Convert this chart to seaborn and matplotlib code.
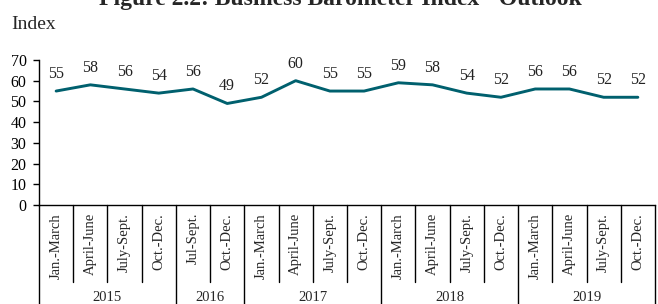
import numpy as np
import pandas as pd
import matplotlib
matplotlib.use("Agg")
import matplotlib.pyplot as plt
import matplotlib.transforms as mtransforms
import seaborn as sns

# chart data
quarters = [
    "Jan.-March", "April-June", "July-Sept.", "Oct.-Dec.",
    "Jul-Sept.", "Oct.-Dec.",
    "Jan.-March", "April-June", "July-Sept.", "Oct.-Dec.",
    "Jan.-March", "April-June", "July-Sept.", "Oct.-Dec.",
    "Jan.-March", "April-June", "July-Sept.", "Oct.-Dec.",
]
index_values = [55, 58, 56, 54, 56, 49, 52, 60, 55, 55, 59, 58, 54, 52, 56, 56, 52, 52]
years = ["2015", "2016", "2017", "2018", "2019"]
quarters_per_year = [4, 2, 4, 4, 4]

sns.set_style("white")
plt.rcParams["font.family"] = ["Liberation Serif", "DejaVu Serif"]

df = pd.DataFrame({"pos": np.arange(len(quarters)), "value": index_values, "quarter": quarters})

fig = plt.figure(figsize=(6.58, 3.04), dpi=100)
ax = fig.add_axes([0.0593, 0.3257, 0.9361, 0.477])

sns.lineplot(data=df, x="pos", y="value", color="#00606e", linewidth=2.1, ax=ax)

# value labels above the points
for x, v in zip(df["pos"], df["value"]):
    ax.annotate(str(v), (x, v), xytext=(0, 6.5), textcoords="offset points",
                ha="center", va="bottom", fontsize=11.5, color="#222222")

ax.set_xlim(-0.5, len(quarters) - 0.5)
ax.set_ylim(0, 70)
ax.set_yticks(range(0, 71, 10))
ax.tick_params(axis="y", labelsize=11.5, length=4, width=1, colors="black", left=True, pad=5)
ax.set_xticks([])
ax.set_xlabel("")
ax.set_ylabel("")
sns.despine(ax=ax)
for side in ["left", "bottom"]:
    ax.spines[side].set_color("black")
    ax.spines[side].set_linewidth(1)

# category labels and separators below the axis
trans = mtransforms.blended_transform_factory(ax.transData, ax.transAxes)
for i, q in enumerate(quarters):
    ax.text(i, -0.055, q, rotation=90, ha="center", va="top", fontsize=10.5,
            transform=trans)

group_edges = np.cumsum([0] + quarters_per_year) - 0.5
for k in range(len(quarters) + 1):
    xb = k - 0.5
    low = -0.75 if xb in group_edges else -0.53
    ax.plot([xb, xb], [0, low], color="black", linewidth=1, transform=trans, clip_on=False)

for year, start, n in zip(years, group_edges[:-1], quarters_per_year):
    ax.text(start + n / 2, -0.64, year, ha="center", va="center", fontsize=10.5,
            transform=trans)

fig.text(0.518, 0.984, "Figure 2.2: Business Barometer Index - Outlook", ha="center",
         va="baseline", fontsize=17, fontweight="bold")
fig.text(0.017, 0.903, "Index", ha="left", va="baseline", fontsize=14)

fig.savefig("out.png", dpi=100)
